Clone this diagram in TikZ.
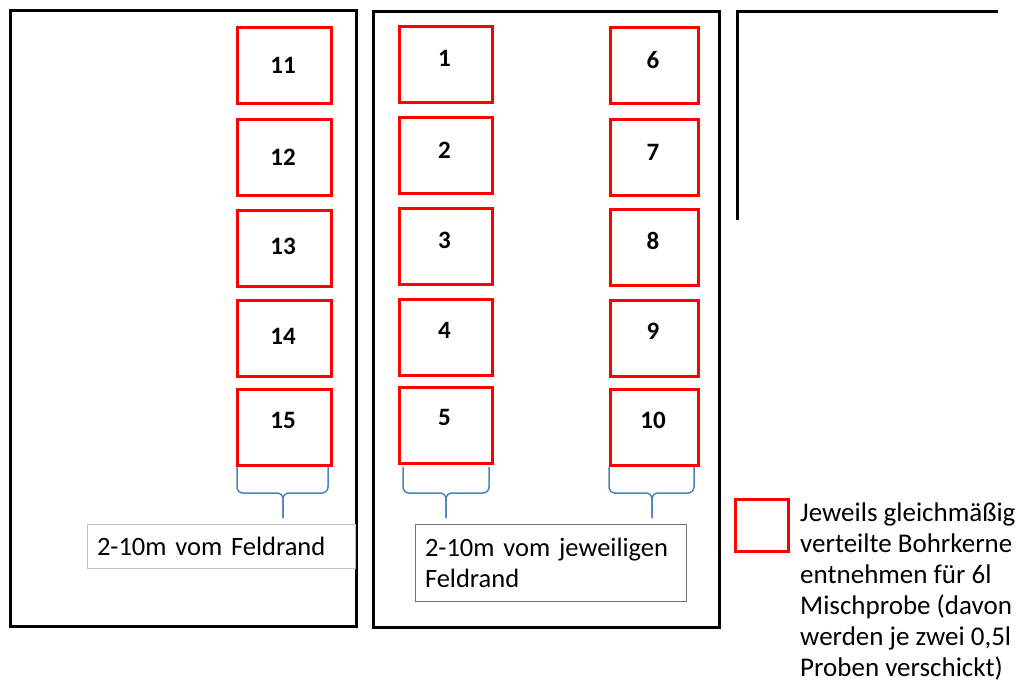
\documentclass[tikz,border=0pt]{standalone}
\usepackage{fontspec}
\setmainfont{Carlito}
\definecolor{sred}{RGB}{255,0,0}
\definecolor{bblue}{RGB}{79,129,189}
\begin{document}
\begin{tikzpicture}[x=1pt,y=-1pt,
 field/.style={draw=black, line width=3pt, inner sep=0pt},
 sample/.style={draw=sred, line width=3pt, inner sep=0pt, fill=white, minimum height=76},
 num/.style={font=\fontsize{25}{30}\selectfont\bfseries, inner sep=0pt},
 brace/.style={draw=bblue, line width=1.5pt, rounded corners=6pt},
 lbox/.style={line width=0.8pt, inner ysep=0pt, inner xsep=10pt, font=\fontsize{26.5}{31}\selectfont, align=left},
 legtext/.style={inner sep=0pt, font=\fontsize{27}{31}\selectfont, align=left, anchor=north west},
]
\useasboundingbox (0,0) rectangle (1021,687);
% fields
\node[field, minimum width=346, minimum height=615] (fieldL) at (183,318.5) {};
\node[field, minimum width=346, minimum height=615] (fieldM) at (546,319.5) {};
\coordinate (fr1) at (737,220);
\coordinate (fr2) at (737,12);
\coordinate (fr3) at (998,12);
\draw[black, line width=3pt] (fr1) -- (fr2) -- (fr3);
% samples
\foreach \n/\x/\y/\w/\ty in {
 11/284/65.5/94/65, 12/284/158/94/157, 13/284/248.5/94/246, 14/284/338.5/94/336, 15/284/427/94/420,
 1/445.5/64.5/93/58, 2/445.5/156/93/150, 3/445.5/246.5/93/240, 4/445.5/337.5/93/330, 5/445.5/425.5/93/417,
 6/654/66/88/60, 7/654/158/88/152, 8/654/248/88/241, 9/654/338.5/88/331, 10/654/427/88/420}{
 \node[sample, minimum width=\w] (s\n) at (\x,\y) {};
 \node[num] (t\n) at (\x-1,\ty) {\n};
}
% braces
\draw[brace] (237,467) -- (237,493) -- (283,493) -- (283,518);
\draw[brace] (328,467) -- (328,493) -- (283,493) -- (283,518);
\draw[brace] (403,467) -- (403,493) -- (446,493) -- (446,518);
\draw[brace] (489,467) -- (489,493) -- (446,493) -- (446,518);
\draw[brace] (609,467) -- (609,493) -- (652,493) -- (652,518);
\draw[brace] (694,467) -- (694,493) -- (652,493) -- (652,518);
% labels
\node[lbox, draw=gray!50, minimum width=268, minimum height=44, text width=248] (labL) at (221,546) {2-10m vom Feldrand};
\node[lbox, draw=gray!90!black, minimum width=271, minimum height=77, text width=251] (labM) at (550.5,562.5) {2-10m vom jeweiligen\\Feldrand};
% legend
\node[sample, minimum width=53, minimum height=52] (leg) at (761.5,525) {};
\node[legtext] (legtxt) at (800,503) {Jeweils gleichmäßig\\verteilte Bohrkerne\\entnehmen für 6l\\Mischprobe (davon\\werden je zwei 0,5l\\Proben verschickt)};
\end{tikzpicture}
\end{document}
